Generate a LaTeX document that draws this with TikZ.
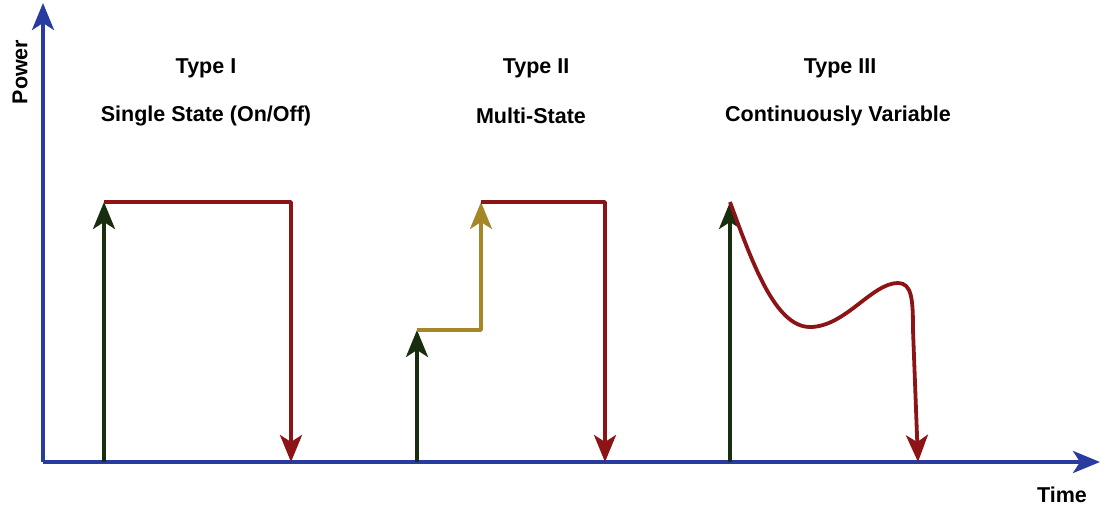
\documentclass[tikz,border=0pt]{standalone}
\usepackage{fontspec}
\setmainfont{Liberation Sans}
\usetikzlibrary{arrows.meta}
\definecolor{axisblue}{RGB}{40,60,160}
\definecolor{ongreen}{RGB}{25,45,15}
\definecolor{offred}{RGB}{140,20,22}
\definecolor{midgold}{RGB}{165,135,40}
\begin{document}
\begin{tikzpicture}[x=1pt,y=-1pt,
  tip/.style={-{Stealth[length=27pt,width=22pt,inset=7pt]}},
  axis/.style={axisblue,line width=3.8pt,tip},
  rise/.style={ongreen,line width=3.8pt,tip},
  fall/.style={offred,line width=3.8pt,tip,line join=round},
  step2/.style={midgold,line width=3.8pt,tip,line join=round},
  lbl/.style={font=\bfseries\fontsize{21.5}{25}\selectfont,inner sep=0pt}]
\useasboundingbox (0,0) rectangle (1105,508);
% axes
\coordinate (O) at (43,462);
\coordinate (ytop) at (43,3);
\coordinate (xend) at (1100,462);
\draw[axis] (O) -- (ytop);
\draw[axis] (O) -- (xend);
\node[lbl,rotate=90] (power) at (20,72) {Power};
\node[lbl] (time) at (1062,495) {Time};
% Type I
\node[lbl] (t1) at (206,68) {Type I};
\node[lbl] (d1) at (206,116) {Single State (On/Off)};
\coordinate (a1) at (104,462);
\coordinate (b1) at (104,202);
\coordinate (c1) at (291,202);
\coordinate (e1) at (291,462);
\draw[rise] (a1) -- (b1);
\draw[fall] (b1) -- (c1) -- (e1);
% Type II
\node[lbl] (t2) at (536,68) {Type II};
\node[lbl] (d2) at (531,116) {Multi-State};
\coordinate (a2) at (417,462);
\coordinate (b2) at (417,330);
\coordinate (m2) at (481,330);
\coordinate (c2) at (481,202);
\coordinate (f2) at (605,202);
\coordinate (e2) at (605,462);
\draw[rise] (a2) -- (b2);
\draw[step2] (b2) -- (m2) -- (c2);
\draw[fall] (c2) -- (f2) -- (e2);
% Type III
\node[lbl] (t3) at (840,68) {Type III};
\node[lbl] (d3) at (838,116) {Continuously Variable};
\coordinate (a3) at (730,462);
\coordinate (b3) at (730,202);
\coordinate (lo3) at (810,327);
\coordinate (hi3) at (898,283);
\coordinate (k3) at (913,330);
\coordinate (e3) at (918,462);
\draw[rise] (a3) -- (b3);
\draw[fall] (b3) .. controls (752,262) and (775,327) .. (lo3)
  .. controls (845,327) and (872,283) .. (hi3)
  .. controls (912,283) and (913,300) .. (k3) -- (e3);
\end{tikzpicture}
\end{document}
